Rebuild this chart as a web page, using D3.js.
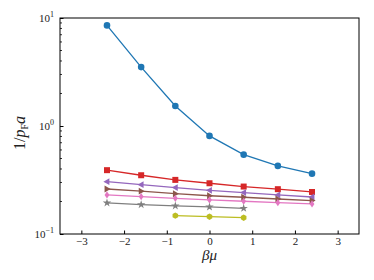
<!DOCTYPE html>
<html>
<head>
<meta charset="utf-8">
<script src="https://cdn.jsdelivr.net/npm/d3@7"></script>
<style>
  body { margin: 0; background: #fff; }
  text { font-family: "Liberation Serif", "DejaVu Serif", serif; fill: #222; }
</style>
</head>
<body>
<div id="chart"></div>
<script>
var betaMu = [-2.4, -1.6, -0.8, 0, 0.8, 1.6, 2.4];
var xTicks = [-3, -2, -1, 0, 1, 2, 3];
var yTicks = [0.1, 1, 10];

var seriesBlue = [8.54, 3.51, 1.53, 0.81, 0.543, 0.427, 0.362];
var seriesRed = [0.390, 0.350, 0.317, 0.295, 0.275, 0.260, 0.245];
var seriesPurple = [0.305, 0.286, 0.269, 0.254, 0.242, 0.230, 0.220];
var seriesBrown = [0.261, 0.249, 0.236, 0.226, 0.219, 0.211, 0.204];
var seriesPink = [0.230, 0.222, 0.214, 0.207, 0.201, 0.195, 0.190];
var seriesGray = [0.194, 0.187, 0.182, 0.178, 0.173];
var seriesOlive = [0.148, 0.1446, 0.1416];

var series = [
    {x: betaMu, y: seriesBlue, color: "#1f77b4", marker: "circle"},
    {x: betaMu, y: seriesRed, color: "#d62728", marker: "square"},
    {x: betaMu, y: seriesPurple, color: "#9467bd", marker: "left"},
    {x: betaMu, y: seriesBrown, color: "#8c564b", marker: "right"},
    {x: betaMu, y: seriesPink, color: "#e377c2", marker: "thin_diamond"},
    {x: betaMu.slice(0, 5), y: seriesGray, color: "#7f7f7f", marker: "star"},
    {x: betaMu.slice(2, 5), y: seriesOlive, color: "#bcbd22", marker: "hexagon"}
];

var width = 374, height = 280;
var margin = {left: 60, right: 15, top: 18, bottom: 46};

var svg = d3.select("#chart").append("svg")
    .attr("width", width).attr("height", height);

var x = d3.scaleLinear().domain([-3.5, 3.5]).range([margin.left, width - margin.right]);
var y = d3.scaleLog().domain([0.1, 10]).range([height - margin.bottom, margin.top]);

var plot = svg.append("g");

// lines
var line = d3.line().x(function (d) { return x(d[0]); }).y(function (d) { return y(d[1]); });
series.forEach(function (s) {
    var pts = s.x.map(function (v, i) { return [v, s.y[i]]; });
    plot.append("path").datum(pts)
        .attr("d", line)
        .attr("fill", "none")
        .attr("stroke", s.color)
        .attr("stroke-width", 1.3);
});

// markers
function markerPath(kind) {
    var r = 3.3;
    switch (kind) {
        case "circle": return d3.symbol(d3.symbolCircle, Math.PI * r * r)();
        case "square": return "M-3,-3L3,-3L3,3L-3,3Z";
        case "left": return "M-3.6,0L2.4,-3.4L2.4,3.4Z";
        case "right": return "M3.6,0L-2.4,-3.4L-2.4,3.4Z";
        case "thin_diamond": return "M0,-3.6L2.4,0L0,3.6L-2.4,0Z";
        case "star": return d3.symbol(d3.symbolStar, 22)();
        case "hexagon":
            var p = [];
            for (var i = 0; i < 6; i++) {
                var a = Math.PI / 2 + i * Math.PI / 3;
                p.push([3.2 * Math.cos(a), 3.2 * Math.sin(a)]);
            }
            return "M" + p.join("L") + "Z";
    }
}
series.forEach(function (s) {
    plot.selectAll(null).data(s.x.map(function (v, i) { return [v, s.y[i]]; }))
        .enter().append("path")
        .attr("d", markerPath(s.marker))
        .attr("transform", function (d) { return "translate(" + x(d[0]) + "," + y(d[1]) + ")"; })
        .attr("fill", s.color);
});

// frame
svg.append("rect")
    .attr("x", margin.left).attr("y", margin.top)
    .attr("width", width - margin.left - margin.right)
    .attr("height", height - margin.top - margin.bottom)
    .attr("fill", "none").attr("stroke", "#000").attr("stroke-width", 1);

// x axis, ticks inward
var xAxis = svg.append("g")
    .attr("transform", "translate(0," + (height - margin.bottom) + ")")
    .call(d3.axisBottom(x).tickValues(xTicks).tickSizeInner(-3.5).tickSizeOuter(0)
        .tickFormat(function (d) { return d < 0 ? "\u2212" + Math.abs(d) : d; }));
xAxis.select(".domain").remove();
xAxis.selectAll("text").attr("y", 3).attr("font-size", 11);

// y axis
var yAxis = svg.append("g")
    .attr("transform", "translate(" + margin.left + ",0)")
    .call(d3.axisLeft(y).tickValues(yTicks).tickSizeInner(-3.5).tickSizeOuter(0).tickFormat(""));
yAxis.select(".domain").remove();

var minor = [];
[0.1, 1].forEach(function (dec) {
    for (var k = 2; k <= 9; k++) minor.push(dec * k);
});
svg.append("g").selectAll("line").data(minor).enter().append("line")
    .attr("x1", margin.left).attr("x2", margin.left + 2)
    .attr("y1", function (d) { return y(d); }).attr("y2", function (d) { return y(d); })
    .attr("stroke", "#000").attr("stroke-width", 0.8);

var yExp = [-1, 0, 1];
yExp.forEach(function (e, i) {
    var t = svg.append("text")
        .attr("x", margin.left - 6).attr("y", y(yTicks[i]) + 4)
        .attr("text-anchor", "end").attr("font-size", 11);
    t.append("tspan").text("10");
    t.append("tspan").attr("dy", -5).attr("font-size", 8)
        .text(e < 0 ? "\u2212" + Math.abs(e) : e);
});

// axis labels
svg.append("text")
    .attr("x", x(0)).attr("y", 260)
    .attr("text-anchor", "middle").attr("font-size", 15)
    .attr("font-style", "italic").text("\u03b2\u03bc");

var yl = svg.append("text")
    .attr("transform", "translate(25,133) rotate(-90)")
    .attr("text-anchor", "middle").attr("font-size", 16);
yl.append("tspan").text("1/");
yl.append("tspan").attr("font-style", "italic").text("p");
yl.append("tspan").attr("font-size", 10).attr("dy", 3).text("F");
yl.append("tspan").attr("font-style", "italic").attr("dy", -3).text("a");
</script>
</body>
</html>
